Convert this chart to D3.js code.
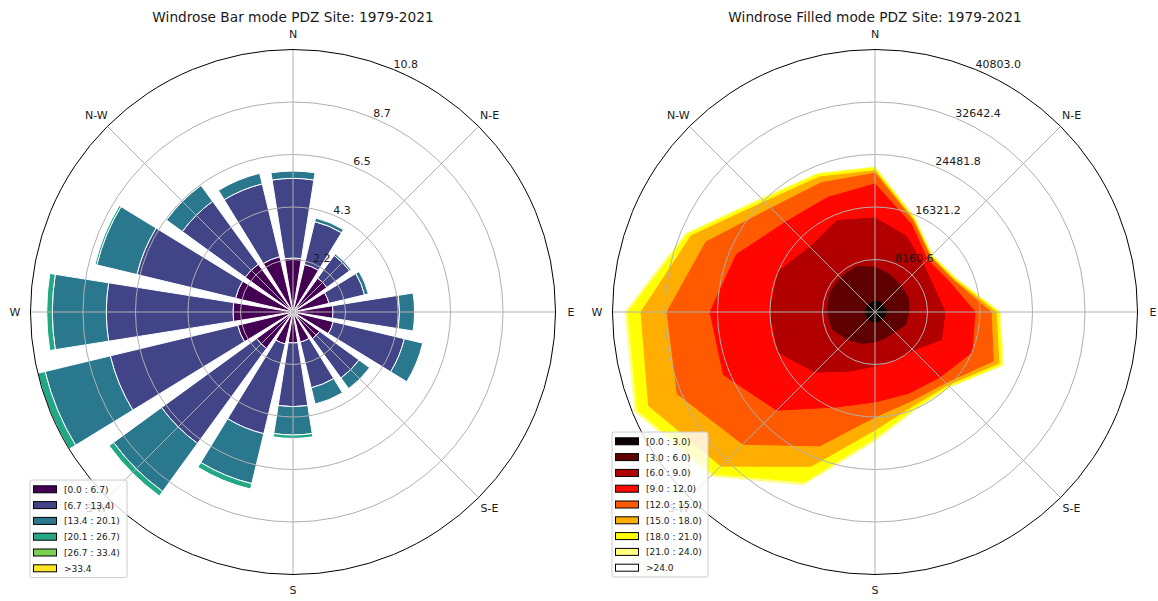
<!DOCTYPE html>
<html>
<head>
<meta charset="utf-8">
<script src="https://cdn.jsdelivr.net/npm/d3@7"></script>
<style>
  body { margin: 0; background: #fff; }
  svg text { font-family: "DejaVu Sans", sans-serif; fill: #1a1a1a; }
</style>
</head>
<body>
<div id="chart"></div>
<script>

// 16 sectors, clockwise from north
const directions = ["N","NNE","NE","ENE","E","ESE","SE","SSE","S","SSW","SW","WSW","W","WNW","NW","NNW"];
const compassLabels = ["N","N-E","E","S-E","S","S-W","W","N-W"];

// ---- bar mode: frequency (%) per wind speed bin and sector
const barBinLabels = ["[0.0 : 6.7)","[6.7 : 13.4)","[13.4 : 20.1)","[20.1 : 26.7)","[26.7 : 33.4)",">33.4"];
const barBin0 = [2.23,2.02,1.73,1.53,1.65,1.71,1.36,1.28,1.28,1.36,1.86,2.35,2.48,2.44,2.44,2.35];
const barBin1 = [3.29,1.82,1.16,1.51,2.75,3.02,2.01,1.94,2.63,3.81,4.85,5.41,5.23,4.19,3.21,3.09];
const barBin2 = [0.30,0.15,0.08,0.16,0.62,0.78,0.54,0.69,1.17,2.12,2.45,2.77,2.23,1.70,0.81,0.45];
const barBin3 = [0,0,0,0,0,0,0,0,0.14,0.23,0.23,0.31,0.23,0.08,0,0];
const barBin4 = [0,0,0,0,0,0,0,0,0,0,0,0,0,0,0,0];
const barBin5 = [0,0,0,0,0,0,0,0,0,0,0,0,0,0,0,0];

// ---- filled mode: counts per wind speed bin and sector
const fillBinLabels = ["[0.0 : 3.0)","[3.0 : 6.0)","[6.0 : 9.0)","[9.0 : 12.0)","[12.0 : 15.0)","[15.0 : 18.0)","[18.0 : 21.0)","[21.0 : 24.0)",">24.0"];
const fillBin0 = [1710,1710,1710,1710,1870,1710,1550,1550,1550,1550,1550,1550,1550,1550,1550,1550];
const fillBin1 = [5290,4510,4040,3890,3420,3420,2800,2800,3110,3730,4510,5600,5910,6060,6060,6060];
const fillBin2 = [7620,6530,4820,4350,5600,6060,4040,3730,3730,4660,7150,9170,8860,8710,6680,7770];
const fillBin3 = [5290,2020,930,2490,4660,5130,5910,5600,5600,6060,8390,9170,9330,7000,5440,3890];
const fillBin4 = [1660,620,620,620,2490,3580,1240,1240,2330,6530,7460,7770,6680,5130,3110,2490];
const fillBin5 = [400,230,160,230,780,930,470,780,2020,3420,4820,4820,4040,2490,1400,930];
const fillBin6 = [420,230,160,230,470,470,310,470,1240,2640,1710,1870,2020,620,470,470];
const fillBin7 = [160,160,160,160,160,310,160,310,470,470,470,470,470,310,310,160];
const fillBin8 = [160,160,160,160,160,160,160,160,160,310,310,383,310,160,160,160];

// colours: viridis for bars, matplotlib "hot" for filled
const barColors = barBinLabels.map((d, i) => d3.interpolateViridis(i / (barBinLabels.length - 1)));
const hotColors = ["#0b0000","#5e0000","#b20000","#ff0700","#ff5a00","#ffae00","#ffff04","#ffff82","#ffffff"];

const width = 1158, height = 601;
const R = 262.5;
const step = 2 * Math.PI / directions.length;

const svg = d3.select("#chart").append("svg")
	.attr("width", width)
	.attr("height", height);

svg.append("rect").attr("width", width).attr("height", height).attr("fill", "#fff");

// cumulative stacks: one row per bin
function stack(bins) {
	let offset = directions.map(() => 0);
	return bins.map(b => {
		let lower = offset.slice();
		offset = offset.map((o, i) => o + b[i]);
		return { lower: lower, upper: offset.slice() };
	});
}

function drawAxes(g, r, rmax, title) {
	let ticks = d3.range(1, 6).map(i => rmax * i / 5);

	// grid circles
	g.selectAll(".ring")
		.data(ticks.slice(0, 4))
		.enter().append("circle")
		.attr("r", d => r(d))
		.attr("fill", "none")
		.attr("stroke", "#b0b0b0")
		.attr("stroke-width", 1);

	// spokes
	g.selectAll(".spoke")
		.data(d3.range(8))
		.enter().append("line")
		.attr("x1", 0).attr("y1", 0)
		.attr("x2", i => R * Math.sin(i * Math.PI / 4))
		.attr("y2", i => -R * Math.cos(i * Math.PI / 4))
		.attr("stroke", "#b0b0b0")
		.attr("stroke-width", 1);

	// outer spine
	g.append("circle")
		.attr("r", R)
		.attr("fill", "none")
		.attr("stroke", "#000")
		.attr("stroke-width", 1);

	// radial tick labels on the 22.5 deg line
	let a = Math.PI / 8;
	g.selectAll(".rlabel")
		.data(ticks)
		.enter().append("text")
		.attr("x", d => r(d) * Math.sin(a))
		.attr("y", d => -r(d) * Math.cos(a) - 5)
		.attr("dominant-baseline", "central")
		.attr("font-size", "11px")
		.text(d => d3.format(".1f")(d));

	// compass labels
	g.selectAll(".clabel")
		.data(compassLabels)
		.enter().append("text")
		.attr("x", (d, i) => 278 * Math.sin(i * Math.PI / 4))
		.attr("y", (d, i) => -278 * Math.cos(i * Math.PI / 4))
		.attr("text-anchor", "middle")
		.attr("dominant-baseline", "central")
		.attr("font-size", "11px")
		.text(d => d);

	g.append("text")
		.attr("x", 0)
		.attr("y", -295)
		.attr("text-anchor", "middle")
		.attr("dominant-baseline", "central")
		.attr("font-size", "13.7px")
		.text(title);
}

function drawLegend(x, y, w, labels, colors) {
	let rowH = 15.8, pad = 9.3;
	let lg = svg.append("g").attr("transform", `translate(${x}, ${y})`);
	lg.append("rect")
		.attr("width", w)
		.attr("height", pad * 2 + rowH * (labels.length - 1))
		.attr("rx", 2)
		.attr("fill", "#fff")
		.attr("fill-opacity", 0.8)
		.attr("stroke", "#cccccc")
		.attr("stroke-width", 1);
	let rows = lg.selectAll(".row")
		.data(labels)
		.enter().append("g")
		.attr("transform", (d, i) => `translate(0, ${pad + i * rowH})`);
	rows.append("rect")
		.attr("x", 3.5).attr("y", -3.5)
		.attr("width", 23).attr("height", 7)
		.attr("fill", (d, i) => colors[i])
		.attr("stroke", "#000")
		.attr("stroke-width", 1);
	rows.append("text")
		.attr("x", 34)
		.attr("y", 0.5)
		.attr("dominant-baseline", "central")
		.attr("font-size", "9px")
		.text(d => d);
}

// ---------------- bar mode
(function () {
	let bins = [barBin0, barBin1, barBin2, barBin3, barBin4, barBin5];
	let layers = stack(bins);
	let rmax = d3.max(layers[layers.length - 1].upper);
	let r = d3.scaleLinear().domain([0, rmax]).range([0, R]);
	let opening = step * 0.8;

	let g = svg.append("g").attr("transform", "translate(293, 312)");

	let arc = d3.arc();
	layers.forEach((layer, b) => {
		g.selectAll(".bar" + b)
			.data(directions.map((d, i) => ({ i: i, lo: layer.lower[i], hi: layer.upper[i] }))
				.filter(d => d.hi > d.lo))
			.enter().append("path")
			.attr("d", d => arc({
				innerRadius: r(d.lo),
				outerRadius: r(d.hi),
				startAngle: d.i * step - opening / 2,
				endAngle: d.i * step + opening / 2
			}))
			.attr("fill", barColors[b])
			.attr("stroke", "#fff")
			.attr("stroke-width", 1);
	});

	drawAxes(g, r, rmax, "Windrose Bar mode PDZ Site: 1979-2021");
})();

// ---------------- filled mode
(function () {
	let bins = [fillBin0, fillBin1, fillBin2, fillBin3, fillBin4, fillBin5, fillBin6, fillBin7, fillBin8];
	let layers = stack(bins);
	let rmax = d3.max(layers[layers.length - 1].upper);
	let r = d3.scaleLinear().domain([0, rmax]).range([0, R]);

	let g = svg.append("g").attr("transform", "translate(875, 312)");

	let line = d3.lineRadial()
		.angle((d, i) => i * step)
		.radius(d => r(d))
		.curve(d3.curveLinearClosed);

	// outer bands first, inner on top
	for (let b = layers.length - 1; b >= 0; b--) {
		g.append("path")
			.attr("d", line(layers[b].upper))
			.attr("fill", hotColors[b])
			.attr("stroke", hotColors[b])
			.attr("stroke-width", 1);
	}

	drawAxes(g, r, rmax, "Windrose Filled mode PDZ Site: 1979-2021");
})();

drawLegend(30, 480, 97, barBinLabels, barColors);
drawLegend(612, 432, 96, fillBinLabels, hotColors);

</script>
</body>
</html>
